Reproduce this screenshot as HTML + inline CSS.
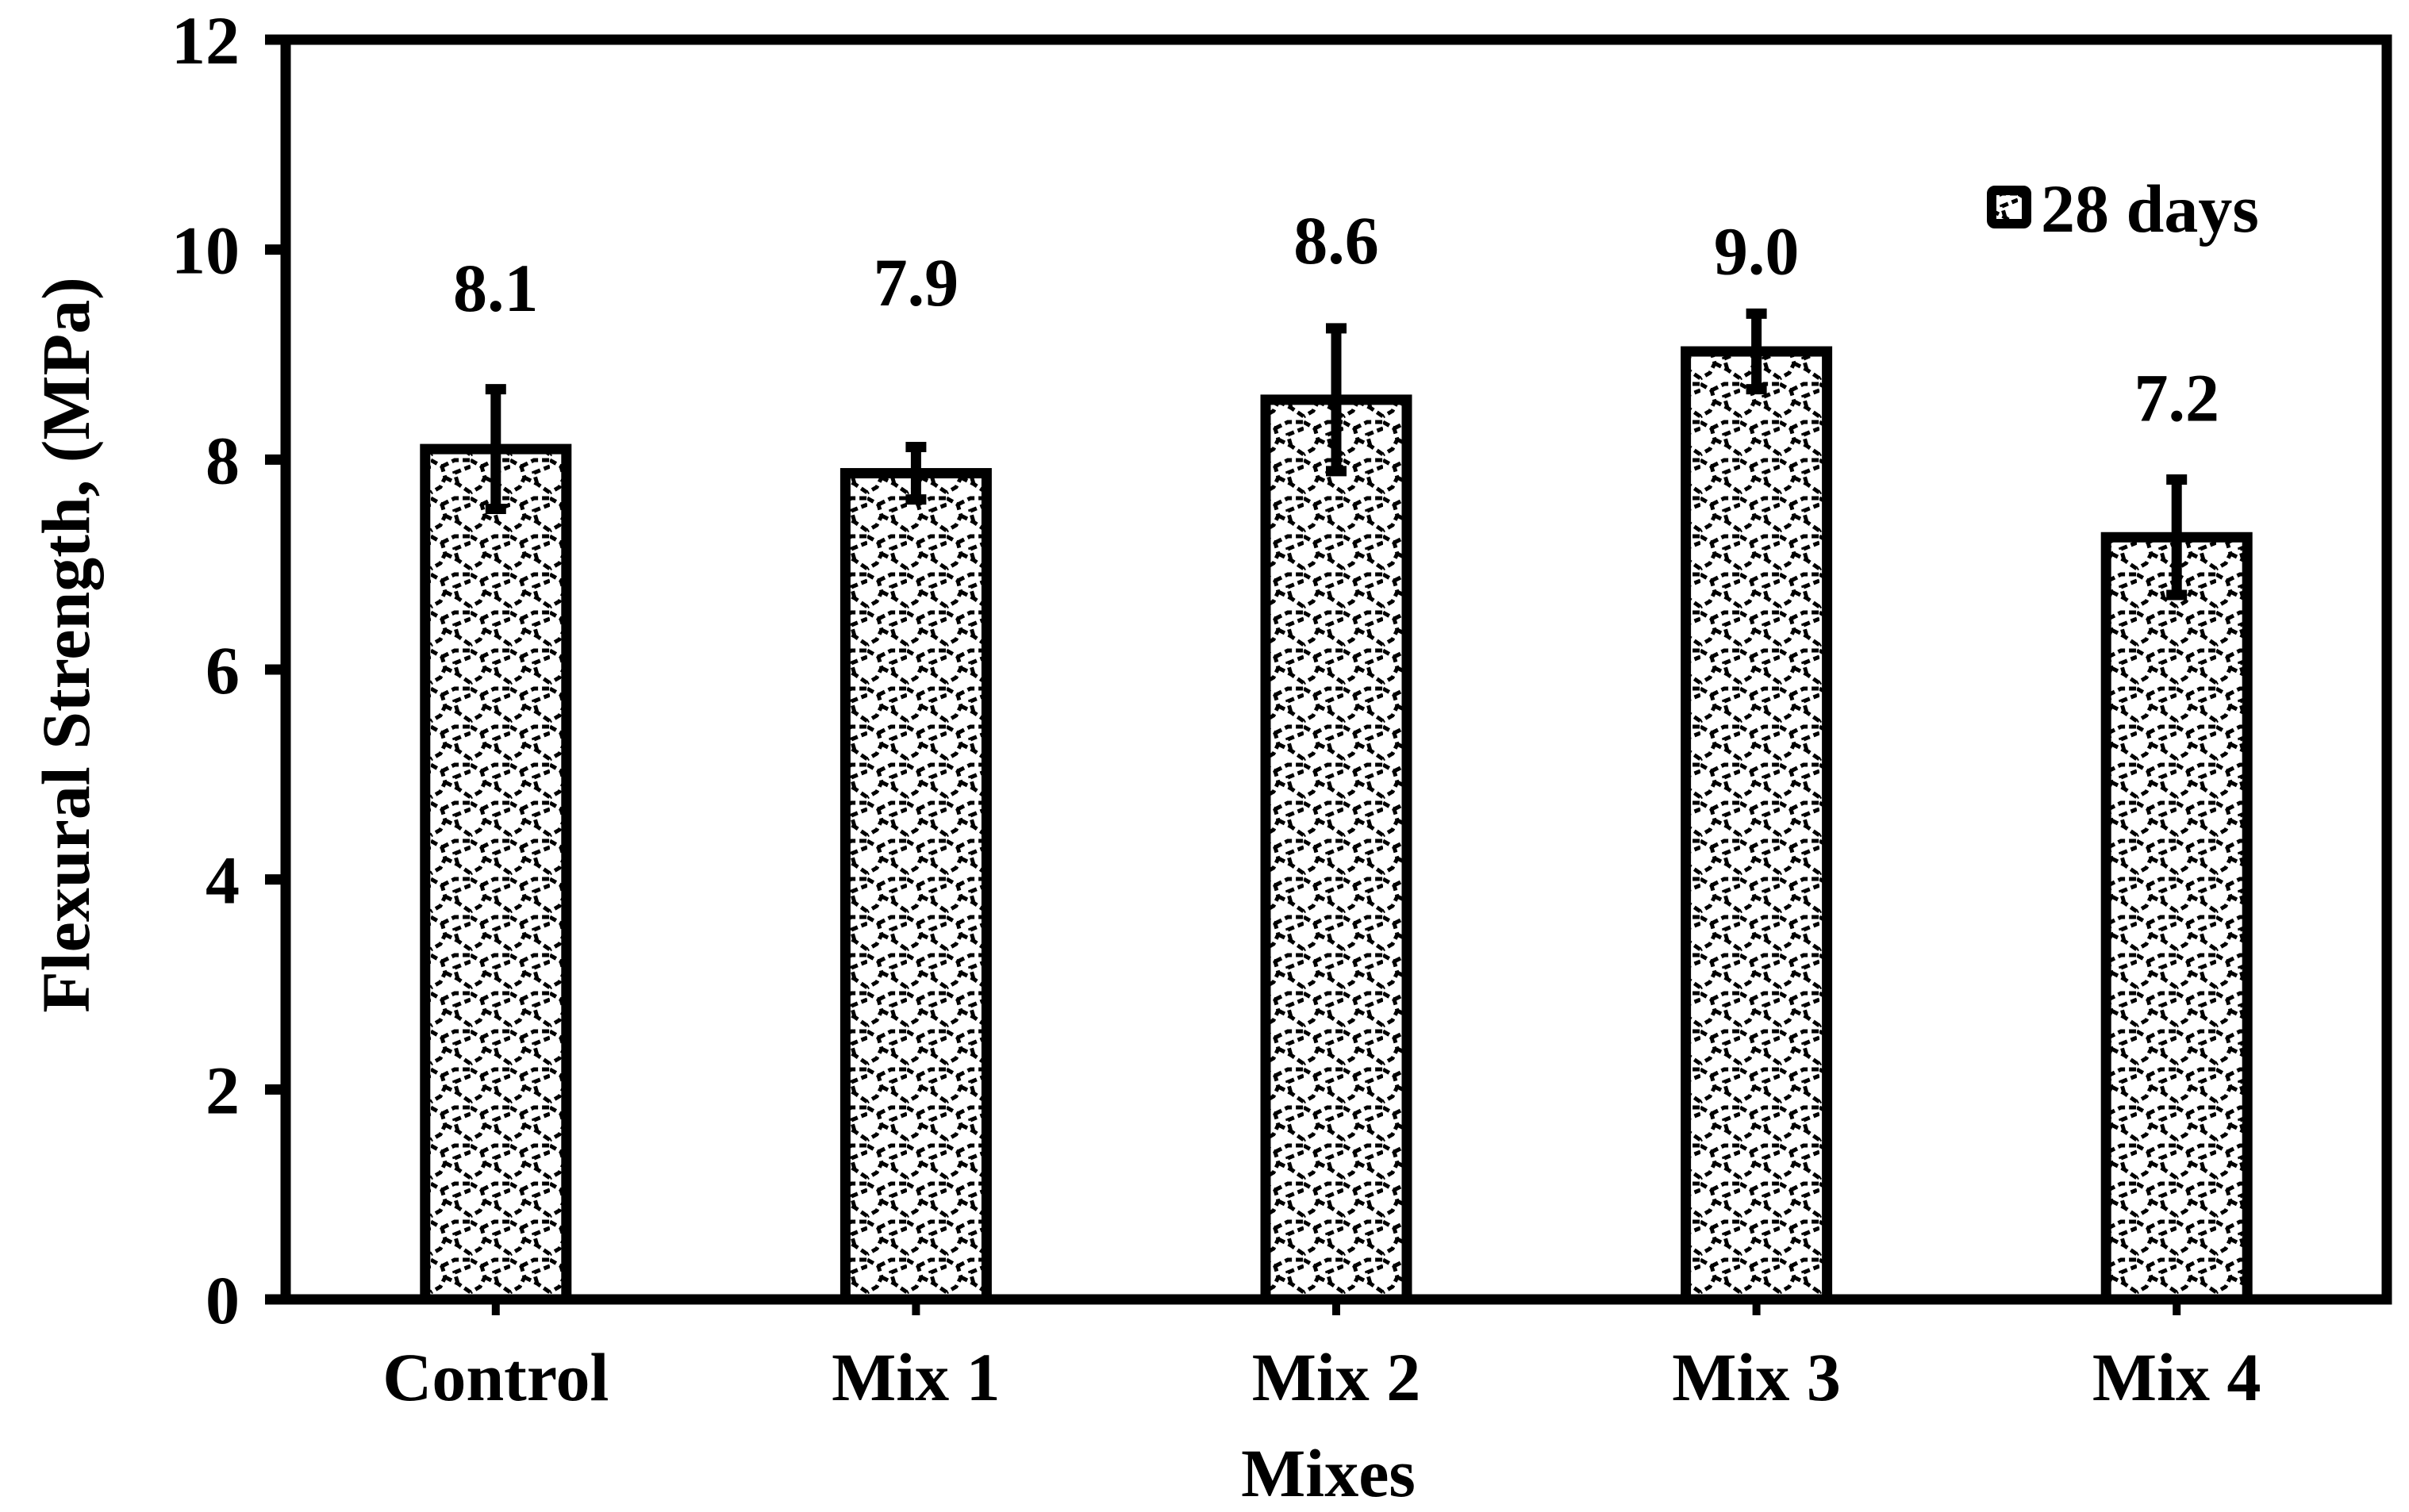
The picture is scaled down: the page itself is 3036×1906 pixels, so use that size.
<!DOCTYPE html>
<html><head><meta charset="utf-8"><style>
html,body{margin:0;padding:0;background:#fff;}
svg{display:block;}
text{font-family:"Liberation Serif",serif;font-weight:bold;fill:#000;}
</style></head>
<body>
<svg id="chart" width="3036" height="1906" viewBox="0 0 3036 1906" xmlns="http://www.w3.org/2000/svg">
<defs>
<pattern id="scale" patternUnits="userSpaceOnUse" x="543" y="576" width="50" height="48">
<rect width="50" height="48" fill="#fff"/>
<path d="M0,4 L14,12 L18,26 L12,38 L0,45 M14,12 L30,4 L50,4 M18,26 L34,34 L50,45 M34,34 L30,20 L50,12" fill="none" stroke="#000" stroke-width="5" stroke-dasharray="9,5"/>
</pattern>
</defs>
<g id="plot"></g>
</svg>
<script>
const categories = ["Control", "Mix 1", "Mix 2", "Mix 3", "Mix 4"];
const values = [8.1, 7.87, 8.57, 9.03, 7.26];
const errors = [0.57, 0.25, 0.68, 0.36, 0.55];
const valueLabels = ["8.1", "7.9", "8.6", "9.0", "7.2"];
const labelLevels = [9.75, 9.8, 10.2, 10.1, 8.7];
const yTicks = [0, 2, 4, 6, 8, 10, 12];

const NS = "http://www.w3.org/2000/svg";
const X0 = 360, X1 = 3008, Y0 = 1638, Y12 = 50;
const yScale = v => Y0 - (v / 12) * (Y0 - Y12);
const band = (X1 - X0) / categories.length;
const xCenter = i => X0 + band * (i + 0.5);
const barW = 178;
const FS = 86;
const g = document.getElementById('plot');

function mk(tag, attrs, parent) {
  const e = document.createElementNS(NS, tag);
  for (const k in attrs) e.setAttribute(k, attrs[k]);
  (parent || g).appendChild(e);
  return e;
}

const frame = mk('rect', {x: X0, y: Y12, width: X1 - X0, height: Y0 - Y12, fill: 'none', stroke: '#000', 'stroke-width': 13});



yTicks.forEach(t => {
  const y = yScale(t);
  const tk = mk('line', {x1: X0 - 26, x2: X0, y1: y, y2: y, stroke: '#000', 'stroke-width': 13});
  
  
  const lb = mk('text', {x: 302, y: y + 30, 'text-anchor': 'end', 'font-size': FS});
  lb.textContent = t;
  
  
});

categories.forEach((c, i) => {
  const cx = xCenter(i);
  const top = yScale(values[i]);
  const bar = mk('rect', {x: cx - barW / 2, y: top, width: barW, height: Y0 - top, fill: 'url(#scale)', stroke: '#000', 'stroke-width': 13});
  
  

  const eHi = yScale(values[i] + errors[i]), eLo = yScale(values[i] - errors[i]);
  const eb = mk('path', {d: `M${cx},${eHi} L${cx},${eLo} M${cx - 13},${eHi} L${cx + 13},${eHi} M${cx - 13},${eLo} L${cx + 13},${eLo}`, stroke: '#000', 'stroke-width': 13, fill: 'none'});
  
  

  const vl = mk('text', {x: cx, y: yScale(labelLevels[i]) + 44, 'text-anchor': 'middle', 'font-size': FS});
  vl.textContent = valueLabels[i];
  
  

  const xt = mk('line', {x1: cx, x2: cx, y1: Y0, y2: Y0 + 20, stroke: '#000', 'stroke-width': 10});
  
  

  const cl = mk('text', {x: cx, y: 1765, 'text-anchor': 'middle', 'font-size': FS});
  cl.textContent = c;
  
  
});

const xt = mk('text', {x: (X0 + X1) / 2 - 10, y: 1886, 'text-anchor': 'middle', 'font-size': FS});
xt.textContent = 'Mixes';



const yt = mk('text', {x: 0, y: 0, 'text-anchor': 'middle', 'font-size': FS, transform: 'translate(112,813) rotate(-90)'});
yt.textContent = 'Flexural Strength, (MPa)';



const lg = mk('g', {});


const sw = mk('rect', {x: 2510, y: 240, width: 44, height: 42, rx: 4, fill: 'url(#scale)', stroke: '#000', 'stroke-width': 12}, lg);


const lt = mk('text', {x: 2572, y: 292, 'font-size': FS}, lg);
lt.textContent = '28 days';


</script>
</body></html>
